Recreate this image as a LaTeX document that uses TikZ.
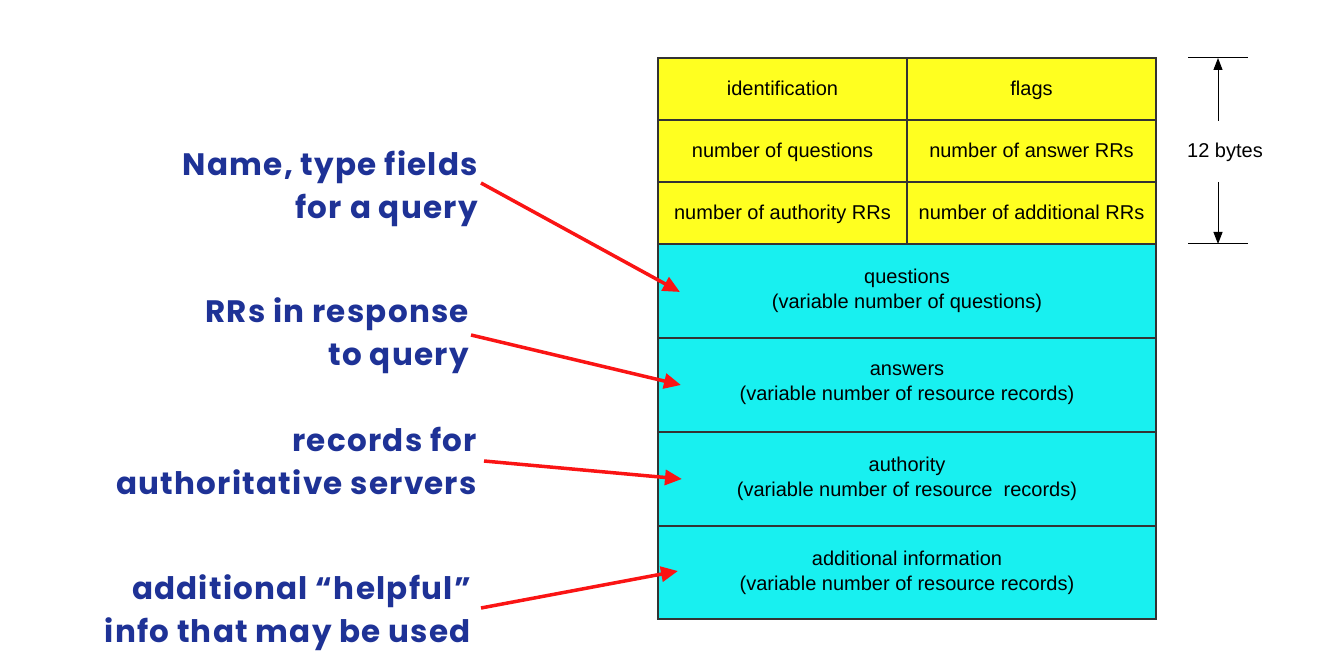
\documentclass[tikz,border=0pt]{standalone}
\usepackage{fontspec}
\setmainfont{Liberation Sans}
\newfontfamily\labelfont[LetterSpace=4.0]{Poppins}
\usetikzlibrary{arrows.meta}
\definecolor{hdryellow}{RGB}{255,255,32}
\definecolor{seccyan}{RGB}{24,240,240}
\definecolor{lblblue}{RGB}{30,50,150}
\definecolor{arrred}{RGB}{250,20,20}
\begin{document}
\begin{tikzpicture}[x=1pt,y=-1pt,
  cellbase/.style={draw=black!80, line width=1.2pt, inner sep=0pt, outer sep=0pt,
    align=center, font=\fontsize{20}{25}\selectfont},
  hcell/.style={cellbase, fill=hdryellow, minimum width=249pt, minimum height=62pt,
    text height=16pt, text depth=2pt},
  scell/.style={cellbase, fill=seccyan, minimum width=498pt, minimum height=94pt},
  lbl/.style={anchor=east, align=right, text=lblblue, inner sep=0pt,
    font=\labelfont\bfseries\fontsize{31}{43}\selectfont},
  redarrow/.style={draw=arrred, line width=3.5pt, -{Triangle[length=17pt,width=15pt]}},
  dimline/.style={draw=black, line width=1pt},
  dimarrow/.style={draw=black, line width=1pt, -{Triangle[length=12pt,width=9pt]}}]
\useasboundingbox (0,0) rectangle (1320,652);
% header
\node[hcell] (id) at (782.5,89) {identification};
\node[hcell] (fl) at (1031.5,89) {flags};
\node[hcell] (nq) at (782.5,151) {number of questions};
\node[hcell] (na) at (1031.5,151) {number of answer RRs};
\node[hcell] (nau) at (782.5,213) {number of authority RRs};
\node[hcell] (nad) at (1031.5,213) {number of additional RRs};
% sections
\node[scell] (qs) at (907,291) {questions\\(variable number of questions)};
\node[scell] (an) at (907,385) {answers\\(variable number of resource records)};
\node[scell] (au) at (907,479) {authority\\(variable number of resource\ \ records)};
\node[scell, minimum height=93pt] (ad) at (907,572.5) {additional information\\(variable number of resource records)};
% 12 bytes
\coordinate (tl) at (1188,58); \coordinate (tr) at (1248,58);
\coordinate (bl) at (1188,244); \coordinate (br) at (1248,244);
\draw[dimline] (tl) -- (tr);
\draw[dimline] (bl) -- (br);
\node[font=\fontsize{20}{23}\selectfont] (bytes) at (1225,152) {12 bytes};
\coordinate (ta) at (1218,121); \coordinate (tt) at (1218,58);
\coordinate (ba) at (1218,182); \coordinate (bt) at (1218,244);
\draw[dimarrow] (ta) -- (tt);
\draw[dimarrow] (ba) -- (bt);
% labels
\node[lbl] (l1) at (478,189) {Name, type fields\\for a query};
\node[lbl] (l2) at (469,336) {RRs in response\\to query};
\node[lbl] (l3) at (477,461) {records for\\authoritative servers};
\node[lbl] (l4) at (471,613) {additional “helpful”\\info that may be used};
\coordinate (c1) at (680,292);
\coordinate (c2) at (681,385);
\coordinate (c3) at (682,479);
\coordinate (c4) at (678,571);
\draw[redarrow] ([xshift=3pt,yshift=6pt]l1.east) -- (c1);
\draw[redarrow] ([xshift=2pt,yshift=1pt]l2.east) -- (c2);
\draw[redarrow] ([xshift=7pt]l3.east) -- (c3);
\draw[redarrow] ([xshift=10pt,yshift=5pt]l4.east) -- (c4);
\end{tikzpicture}
\end{document}
